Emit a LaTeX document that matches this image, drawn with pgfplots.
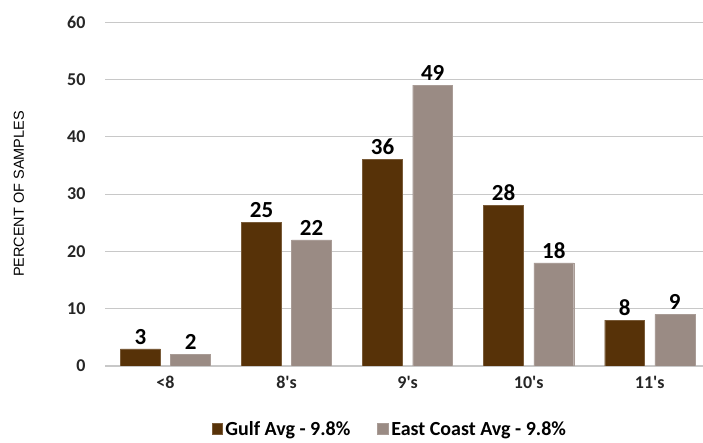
\documentclass[border=0pt]{standalone}
\usepackage{pgfplots}
\pgfplotsset{compat=1.18}
\usepackage{fontspec}
\setmainfont{Carlito}
\newfontfamily\labelfont{Liberation Sans}
\definecolor{gulf}{HTML}{573208}
\definecolor{east}{HTML}{9A8B84}
\definecolor{gridc}{HTML}{C8C8C8}
\begin{document}
\begin{tikzpicture}[x=1pt,y=1pt]
\useasboundingbox (0,0) rectangle (703,443);
\begin{axis}[
  at={(105pt,77pt)}, anchor=south west,
  scale only axis, width=598pt, height=344pt,
  xmin=-0.5, xmax=4.44, ymin=0, ymax=60,
  ytick={0,10,...,60},
  xtick={0,1,2,3,4},
  xticklabels={{<8},{8\textquotesingle s},{9\textquotesingle s},{10\textquotesingle s},{11\textquotesingle s}},
  ymajorgrids, grid style={gridc, line width=0.9pt},
  axis x line*=bottom, axis y line*=left,
  x axis line style={gridc, line width=1.1pt, -},
  y axis line style={draw=none},
  major tick length=0pt,
  tick label style={font=\fontsize{18}{20}\selectfont\bfseries, text=black!85},
  /pgf/number format/assume math mode=true,
  yticklabel style={xshift=-16pt},
  xticklabel style={yshift=-7pt},
  ylabel={\labelfont PERCENT OF SAMPLES},
  ylabel style={font=\fontsize{14.5}{16}\selectfont, at={(axis description cs:-0.144,0.5)}, anchor=center},
  ybar, bar width=0.33,
  nodes near coords,
  every node near coord/.append style={font=\fontsize{23}{25}\selectfont\bfseries, text=black, yshift=1pt},
  legend style={at={(0.477,-0.148)}, anchor=north, draw=none, fill=none,
    legend columns=2, font=\fontsize{20}{22}\selectfont\bfseries,
    nodes={inner xsep=3pt},
    /tikz/every even column/.append style={column sep=24pt}},
  legend image code/.code={\fill[#1] (0pt,-5pt) rectangle (10.5pt,5.5pt);},
]
\addplot[fill=gulf, draw=gulf!80!white, bar shift=-0.207] coordinates {(0,3) (1,25) (2,36) (3,28) (4,8)};
\addlegendentry{Gulf Avg - 9.8\%}
\addplot[fill=east, draw=east!85!white, bar shift=0.207] coordinates {(0,2) (1,22) (2,49) (3,18) (4,9)};
\addlegendentry{East Coast Avg - 9.8\%}
\end{axis}
\end{tikzpicture}
\end{document}
